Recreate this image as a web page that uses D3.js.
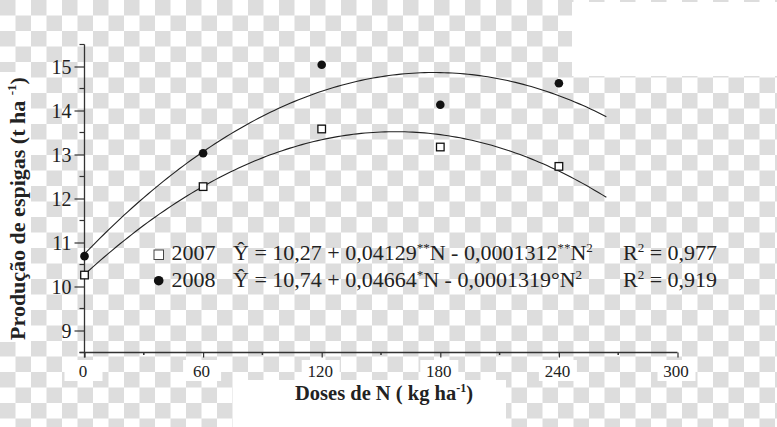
<!DOCTYPE html>
<html><head><meta charset="utf-8">
<script src="https://cdn.jsdelivr.net/npm/d3@7"></script>
<style>body{margin:0;background:#fff}svg{display:block}</style>
</head><body>
<svg id="c" width="777" height="427"></svg>
<script>
// ---- data ----
const doses = [0, 60, 120, 180, 240];
const y2007 = [10.26, 12.27, 13.58, 13.17, 12.73];
const y2008 = [10.69, 13.03, 15.04, 14.13, 14.62];
// regression coefficients printed on the chart: a + bN + cN^2
const coef2007 = [10.27, 0.04129, -0.0001312];
const coef2008 = [10.74, 0.04664, -0.0001319];
const yTicks = [9, 10, 11, 12, 13, 14, 15];
const yMinor = [8.5, 9.5, 10.5, 11.5, 12.5, 13.5, 14.5, 15.5];
const xTicks = [0, 60, 120, 180, 240, 300];
const xMinor = [30, 90, 150, 210, 270];

const svg = d3.select("#c");
const W = 777, H = 427;
const serif = "'Liberation Serif','Times New Roman',serif";
const ink = "#222", axisCol = "#333";

// checkerboard background (as in the reference picture)
const defs = svg.append("defs");
const pat = defs.append("pattern").attr("id","cb").attr("width",31).attr("height",31)
  .attr("patternUnits","userSpaceOnUse");
pat.append("rect").attr("width",31).attr("height",31).attr("fill","#fff");
pat.append("rect").attr("width",15.5).attr("height",15.5).attr("fill","#dddddd");
pat.append("rect").attr("x",15.5).attr("y",15.5).attr("width",15.5).attr("height",15.5).attr("fill","#dddddd");
svg.append("rect").attr("width",W).attr("height",H).attr("fill","url(#cb)");
const whites = [[572,2,205,74],[0,72,31,270],[233,380,273,47]];
svg.selectAll("rect.wh").data(whites).join("rect").attr("class","wh")
  .attr("x",d=>d[0]).attr("y",d=>d[1]).attr("width",d=>d[2]).attr("height",d=>d[3]).attr("fill","#fff");

// scales
const x = d3.scaleLinear().domain([0,300]).range([84.5,677.5]);
const y = d3.scaleLinear().domain([8.5,15.5]).range([352.5,44.5]);

// white patches behind x tick labels
svg.selectAll("rect.xl").data(xTicks).join("rect").attr("class","xl")
  .attr("x",d=>x(d)-20).attr("y",360).attr("width",38).attr("height",21).attr("fill","#fff");

// y axis
const gy = svg.append("g").attr("transform",`translate(${x(0)},0)`)
  .call(d3.axisLeft(y).tickValues(yTicks).tickSize(10).tickPadding(3).tickFormat(d3.format("d")));
gy.select(".domain").remove();
gy.append("line").attr("y1",y(15.5)).attr("y2",y(8.5)+5).attr("stroke",axisCol).attr("stroke-width",1.3);
gy.selectAll(".tick line").attr("stroke",axisCol).attr("stroke-width",1.2);
gy.selectAll(".tick text").attr("font-family",serif).attr("font-size",20).attr("fill",ink).attr("x",-13).attr("dy","0.33em");
gy.selectAll("line.mn").data(yMinor).join("line").attr("class","mn")
  .attr("x1",-5).attr("x2",0).attr("y1",d=>y(d)).attr("y2",d=>y(d)).attr("stroke",axisCol).attr("stroke-width",1.2);

// x axis
const gx = svg.append("g").attr("transform",`translate(0,${y(8.5)})`)
  .call(d3.axisBottom(x).tickValues(xTicks).tickSize(5).tickPadding(7).tickFormat(d3.format("d")));
gx.select(".domain").remove();
gx.append("line").attr("x1",x(0)-5).attr("x2",x(300)).attr("stroke",axisCol).attr("stroke-width",1.3);
gx.selectAll(".tick line").attr("stroke",axisCol).attr("stroke-width",1.2);
gx.selectAll(".tick text").attr("font-family",serif).attr("font-size",17).attr("fill",ink).attr("x",-2);
gx.selectAll("line.mn").data(xMinor).join("line").attr("class","mn")
  .attr("x1",d=>x(d)).attr("x2",d=>x(d)).attr("y1",0).attr("y2",2.5).attr("stroke",axisCol).attr("stroke-width",1.5);

// fitted curves
const line = d3.line().x(d=>x(d[0])).y(d=>y(d[1])).curve(d3.curveLinear);
function fit(c){ return d3.range(0,264.01,2).map(n=>[n, c[0]+c[1]*n+c[2]*n*n]); }
[coef2007, coef2008].forEach(c=>{
  svg.append("path").attr("d",line(fit(c))).attr("fill","none").attr("stroke","#222").attr("stroke-width",1.1);
});

// points
svg.selectAll("rect.p07").data(doses).join("rect").attr("class","p07")
  .attr("x",(d,i)=>x(d)-3.8).attr("y",(d,i)=>y(y2007[i])-3.8).attr("width",7.6).attr("height",7.6)
  .attr("fill","#fff").attr("stroke","#111").attr("stroke-width",1.3);
svg.selectAll("circle.p08").data(doses).join("circle").attr("class","p08")
  .attr("cx",d=>x(d)).attr("cy",(d,i)=>y(y2008[i])).attr("r",4.3).attr("fill","#111");

// legend
const lg = svg.append("g").attr("font-family",serif).attr("font-size",22).attr("fill",ink);
lg.append("rect").attr("x",154).attr("y",250).attr("width",9.5).attr("height",9.5).attr("fill","#fff").attr("stroke","#444").attr("stroke-width",1);
lg.append("circle").attr("cx",158.7).attr("cy",280.7).attr("r",4.8).attr("fill","#111");
const rows = [
  {yb:260, yr:"2007", parts:[["Ŷ = 10,27 + 0,04129",0],["**",1],["N - 0,0001312",0],["**",1],["N",0],["2",1]], r2:"0,977"},
  {yb:287, yr:"2008", parts:[["Ŷ = 10,74 + 0,04664",0],["*",1],["N - 0,0001319°N",0],["2",1]], r2:"0,919"}
];
rows.forEach(r=>{
  lg.append("text").attr("x",171.5).attr("y",r.yb).text(r.yr);
  const t = lg.append("text").attr("x",233).attr("y",r.yb);
  r.parts.forEach(p=>{
    const s = t.append("tspan").text(p[0]);
    if(p[1]){ s.attr("font-size",13).attr("dy",-8); }
    else { s.attr("dy", t.selectAll("tspan").size()>1 ? 8 : 0); }
  });
  const rt = lg.append("text").attr("x",623).attr("y",r.yb);
  rt.append("tspan").text("R");
  rt.append("tspan").attr("font-size",13).attr("dy",-8).text("2");
  rt.append("tspan").attr("dy",8).text(" = " + r.r2);
});

// axis titles
const yt = svg.append("text").attr("transform","translate(25,208.5) rotate(-90)")
  .attr("text-anchor","middle").attr("font-family",serif).attr("font-weight","bold").attr("font-size",22).attr("fill",ink);
yt.append("tspan").text("Produção de espigas  (t ha ");
yt.append("tspan").attr("font-size",13).attr("dy",-9).text("-1");
yt.append("tspan").attr("dy",9).text(")");
const xt = svg.append("text").attr("x",384).attr("y",400)
  .attr("text-anchor","middle").attr("font-family",serif).attr("font-weight","bold").attr("font-size",20.5).attr("fill",ink);
xt.append("tspan").text("Doses de N ( kg ha");
xt.append("tspan").attr("font-size",12).attr("dy",-8).text("-1");
xt.append("tspan").attr("dy",8).text(")");
</script>
</body></html>
